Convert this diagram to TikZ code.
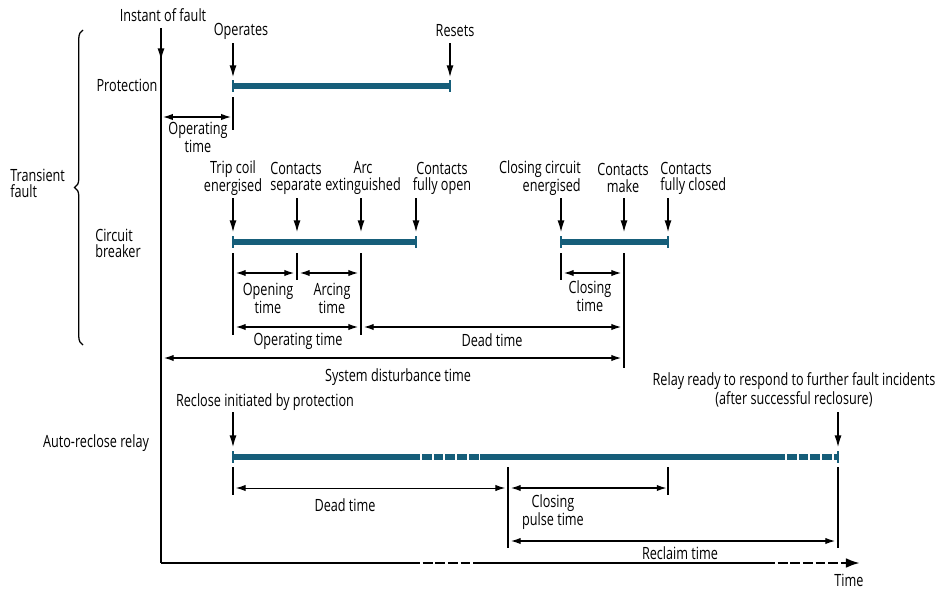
\documentclass[tikz,border=0pt]{standalone}
\usepackage{fontspec}
\setmainfont[FakeStretch=0.75]{Open Sans}
\usetikzlibrary{arrows.meta,decorations.pathreplacing}
\definecolor{barblue}{RGB}{22,94,122}
\tikzset{
    every node/.style={inner sep=0pt, align=center, font=\fontsize{12}{11.5}\selectfont}
}
\tikzset{
    bar/.style={draw=barblue, line width=3.6pt},
    barend/.style={draw=barblue, line width=0.9pt},
    bardash/.style={bar, dash pattern=on 7pt off 1.4pt},
    ptr/.style={-{Latex[length=9pt,width=5pt]}, line width=1.4pt},
    span/.style={{Latex[length=7pt,width=4.5pt]}-{Latex[length=7pt,width=4.5pt]}, line width=0.9pt},
    tick/.style={line width=1.5pt},
    axis/.style={line width=1.8pt}
}

\begin{document}
\begin{tikzpicture}[x=0.025cm, y=-0.025cm]
        \useasboundingbox (0,0) rectangle (944,592);
        % row labels
        \node (tf) [anchor=west, align=left] at (10,183) {Transient\\fault};
        \node (pr) at (127,85) {Protection};
        \node (cb) [anchor=west, align=left] at (95,243) {Circuit\\breaker};
        \node (ar) at (96,443) {Auto-reclose relay};
        \coordinate (bt) at (83,30);
        \coordinate (bb) at (83,345);
        \draw [decorate, decoration={brace, amplitude=6pt}, line width=0.9pt] (bb) -- (bt);
        % axes
        \node (fault) at (163,15) {Instant of fault};
        \node (time) at (849,580) {Time};
        \coordinate (top) at (161,28);
        \coordinate (hit) at (161,61);
        \coordinate (o) at (161,563);
        \coordinate (x1) at (410,563);
        \coordinate (x2) at (480,563);
        \coordinate (x3) at (765,563);
        \coordinate (xe) at (860,563);
        \draw [axis] (top) -- (o);
        \draw [ptr] (top) -- (hit);
        \draw [axis] (o) -- (x1);
        \draw [axis, dash pattern=on 7pt off 2pt] (x1) -- (x2);
        \draw [axis] (x2) -- (x3);
        \draw [axis, dash pattern=on 7pt off 2pt, -{Latex[length=10pt,width=7pt]}] (x3) -- (xe);
        % protection
        \node (oper) at (241,31) {Operates};
        \node (reset) at (455,31) {Resets};
        \node (optime) at (198,137) {Operating\\time};
        \coordinate (p0) at (233,86);
        \coordinate (p1) at (450,86);
        \coordinate (p0t) at (233,43);
        \coordinate (p0h) at (233,78);
        \coordinate (p1t) at (450,43);
        \coordinate (p1h) at (450,78);
        \coordinate (p0a) at (233,97);
        \coordinate (p0b) at (233,130);
        \coordinate (s0) at (163,117);
        \coordinate (s1) at (231,117);
        \draw [bar] (p0) -- (p1);
        \draw [barend] ([yshift=4pt]p0) -- ([yshift=-4pt]p0);
        \draw [barend] ([yshift=4pt]p1) -- ([yshift=-4pt]p1);
        \draw [ptr] (p0t) -- (p0h);
        \draw [ptr] (p1t) -- (p1h);
        \draw [tick] (p0a) -- (p0b);
        \draw [span] (s0) -- (s1);
        % circuit breaker
        \node (trip) at (233,178) {Trip coil\\energised};
        \node (sep) at (296,178) {Contacts\\separate};
        \node (arc) at (363,178) {Arc\\extinguished};
        \node (open) at (442,178) {Contacts\\fully open};
        \node (cce) [anchor=east, align=right] at (581,178) {Closing circuit\\energised};
        \node (make) at (623,178) {Contacts\\make};
        \node (closed) [anchor=west, align=left] at (660,178) {Contacts\\fully closed};
        \coordinate (c0) at (233,242);
        \coordinate (c1) at (416,242);
        \coordinate (c2) at (561,242);
        \coordinate (c3) at (668,242);
        \draw [bar] (c0) -- (c1);
        \draw [bar] (c2) -- (c3);
        \draw [barend] ([yshift=4pt]c0) -- ([yshift=-4pt]c0);
        \draw [barend] ([yshift=4pt]c1) -- ([yshift=-4pt]c1);
        \draw [barend] ([yshift=4pt]c2) -- ([yshift=-4pt]c2);
        \draw [barend] ([yshift=4pt]c3) -- ([yshift=-4pt]c3);
        \coordinate (ta) at (233,198);
        \coordinate (ha) at (233,233);
        \coordinate (tb) at (297,198);
        \coordinate (hb) at (297,233);
        \coordinate (tc) at (361,198);
        \coordinate (hc) at (361,233);
        \coordinate (td) at (416,198);
        \coordinate (hd) at (416,233);
        \coordinate (te) at (561,198);
        \coordinate (he) at (561,233);
        \coordinate (tg) at (624,198);
        \coordinate (hg) at (624,233);
        \coordinate (th) at (668,198);
        \coordinate (hh) at (668,233);
        \draw [ptr] (ta) -- (ha);
        \draw [ptr] (tb) -- (hb);
        \draw [ptr] (tc) -- (hc);
        \draw [ptr] (td) -- (hd);
        \draw [ptr] (te) -- (he);
        \draw [ptr] (tg) -- (hg);
        \draw [ptr] (th) -- (hh);
        \coordinate (va0) at (233,253);
        \coordinate (va1) at (233,335);
        \coordinate (vb0) at (297,253);
        \coordinate (vb1) at (297,280);
        \coordinate (vc0) at (361,253);
        \coordinate (vc1) at (361,335);
        \coordinate (ve0) at (561,253);
        \coordinate (ve1) at (561,280);
        \coordinate (vg0) at (624,253);
        \coordinate (vg1) at (624,368);
        \draw [tick] (va0) -- (va1);
        \draw [thick] (vb0) -- (vb1);
        \draw [tick] (vc0) -- (vc1);
        \draw [thick] (ve0) -- (ve1);
        \draw [tick] (vg0) -- (vg1);
        \node (opening) at (268,298) {Opening\\time};
        \node (arcing) at (332,298) {Arcing\\time};
        \node (cltime) at (590,296) {Closing\\time};
        \node (optime2) at (298,341) {Operating time};
        \node (dead) at (492,340) {Dead time};
        \node (sdt) at (398,377) {System disturbance time};
        \draw [span] ([xshift=2pt]va0 |- 0,273) -- ([xshift=-2pt]vb0 |- 0,273);
        \draw [span] ([xshift=2pt]vb0 |- 0,273) -- ([xshift=-2pt]vc0 |- 0,273);
        \draw [span] ([xshift=2pt]ve0 |- 0,273) -- ([xshift=-2pt]vg0 |- 0,273);
        \draw [span] ([xshift=2pt]va0 |- 0,327) -- ([xshift=-2pt]vc0 |- 0,327);
        \draw [span] ([xshift=2pt]vc0 |- 0,327) -- ([xshift=-2pt]vg0 |- 0,327);
        \draw [span] ([xshift=2pt]o |- 0,358) -- ([xshift=-2pt]vg0 |- 0,358);
        % auto-reclose relay
        \node (init) at (265,402) {Reclose initiated by protection};
        \node (ready) at (794,390) {Relay ready to respond to further fault incidents\\(after successful reclosure)};
        \node (dead2) at (345,505) {Dead time};
        \node (pulse) at (553,512) {Closing\\pulse time};
        \node (reclaim) at (680,553) {Reclaim time};
        \coordinate (r0) at (233,457);
        \coordinate (r1) at (410,457);
        \coordinate (r2) at (480,457);
        \coordinate (r3) at (775,457);
        \coordinate (r4) at (838,457);
        \draw [bar] (r0) -- (r1);
        \draw [bardash] (r1) -- (r2);
        \draw [bar] (r2) -- (r3);
        \draw [bardash] (r3) -- (r4);
        \draw [barend] ([yshift=4pt]r0) -- ([yshift=-4pt]r0);
        \draw [barend] ([yshift=4pt]r4) -- ([yshift=-4pt]r4);
        \coordinate (ti) at (233,412);
        \coordinate (hi) at (233,448);
        \coordinate (tr) at (838,412);
        \coordinate (hr) at (838,448);
        \draw [ptr] (ti) -- (hi);
        \draw [ptr] (tr) -- (hr);
        \coordinate (w0) at (233,467);
        \coordinate (w0b) at (233,495);
        \coordinate (w1) at (508,467);
        \coordinate (w1b) at (508,548);
        \coordinate (w2) at (668,467);
        \coordinate (w2b) at (668,495);
        \coordinate (w3) at (838,467);
        \coordinate (w3b) at (838,548);
        \draw [tick] (w0) -- (w0b);
        \draw [thick] (w1) -- (w1b);
        \draw [thick] (w2) -- (w2b);
        \draw [tick] (w3) -- (w3b);
        \draw [span, line width=0.7pt] ([xshift=2pt]w0 |- 0,488) -- ([xshift=-2pt]w1 |- 0,488);
        \draw [span] ([xshift=2pt]w1 |- 0,488) -- ([xshift=-1pt]w2 |- 0,488);
        \draw [span] ([xshift=2pt]w1 |- 0,541) -- ([xshift=-2pt]w3 |- 0,541);
\end{tikzpicture}
\end{document}
